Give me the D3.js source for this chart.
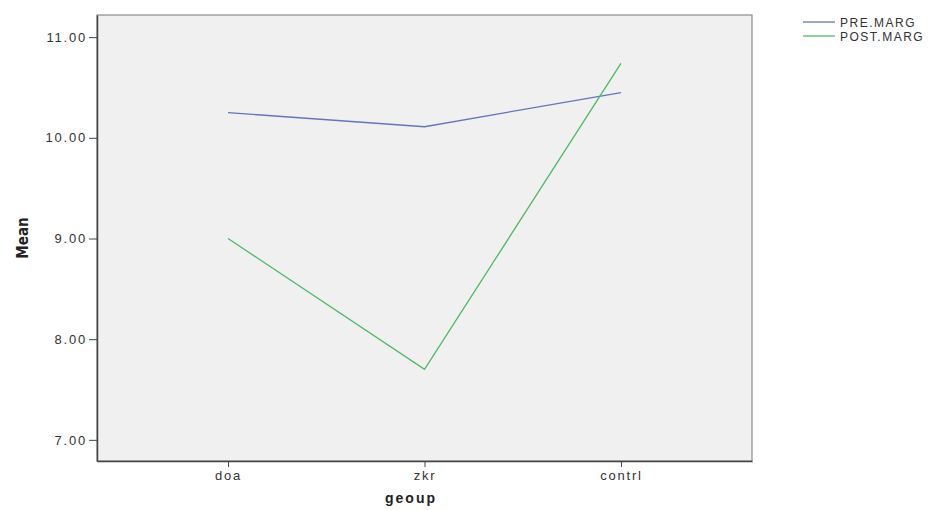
<!DOCTYPE html>
<html><head><meta charset="utf-8">
<script src="https://cdn.jsdelivr.net/npm/d3@7/dist/d3.min.js"></script>
<style>body{margin:0;background:#fff;}svg{display:block;font-family:"Liberation Sans",Arial,sans-serif;}</style>
</head><body>
<svg id="c" width="943" height="510"></svg>
<script>
const categories = ["doa", "zkr", "contrl"];
const seriesNames = ["PRE.MARG", "POST.MARG"];
const preMarg = [10.25, 10.11, 10.45];
const postMarg = [9.00, 7.70, 10.74];
const yTicks = [7, 8, 9, 10, 11];
const colors = ["#6474b8", "#4fb865"];

const svg = d3.select("#c");
const L = 97, T = 15, R = 752, B = 461;
const x = d3.scalePoint().domain(categories).range([L, R]).padding(0.667);
const y = d3.scaleLinear().domain([6.79, 11.22]).range([B, T]);

svg.append("rect").attr("x", L).attr("y", T).attr("width", R - L).attr("height", B - T)
  .attr("fill", "#f0f0f0").attr("stroke", "#777").attr("stroke-width", 1);

const series = [preMarg, postMarg];
const line = d3.line().x((d, i) => x(categories[i])).y(d => y(d));
series.forEach((s, k) => {
  svg.append("path").datum(s).attr("d", line).attr("fill", "none")
    .attr("stroke", colors[k]).attr("stroke-width", 1.3);
});

const yAxis = d3.axisLeft(y).tickValues(yTicks).tickSize(8).tickSizeOuter(0).tickPadding(2).tickFormat(d3.format(".2f"));
const gy = svg.append("g").attr("transform", `translate(${L},0)`).call(yAxis);
gy.select(".domain").attr("stroke", "#444").attr("stroke-width", 1.5);
gy.selectAll(".tick line").attr("stroke", "#444");
gy.selectAll("text").attr("font-size", 13).attr("letter-spacing", 1.8).attr("fill", "#333").attr("font-family", "Liberation Sans, Arial, sans-serif");

const xAxis = d3.axisBottom(x).tickSize(6).tickSizeOuter(0).tickPadding(4);
const gx = svg.append("g").attr("transform", `translate(0,${B})`).call(xAxis);
gx.select(".domain").attr("stroke", "#444").attr("stroke-width", 1.5);
gx.selectAll(".tick line").attr("stroke", "#444");
gx.selectAll("text").attr("font-size", 13).attr("letter-spacing", 1.8).attr("fill", "#333").attr("font-family", "Liberation Sans, Arial, sans-serif");

svg.append("text").attr("transform", "translate(28,238) rotate(-90)").attr("text-anchor", "middle")
  .attr("font-size", 15).attr("font-weight", "bold").attr("font-family", "Liberation Sans Narrow, DejaVu Sans Condensed, sans-serif")
  .attr("fill", "#222").text("Mean");
svg.append("text").attr("x", 411).attr("y", 503).attr("text-anchor", "middle")
  .attr("font-size", 14).attr("font-weight", "bold").attr("letter-spacing", 2)
  .attr("fill", "#222").text("geoup");

const leg = svg.append("g");
seriesNames.forEach((n, k) => {
  const yy = 22 + k * 14;
  leg.append("line").attr("x1", 803).attr("x2", 835).attr("y1", yy).attr("y2", yy)
    .attr("stroke", colors[k]).attr("stroke-width", 1.3);
  leg.append("text").attr("x", 840).attr("y", yy + 4.5).attr("font-size", 12).attr("letter-spacing", 1.5).attr("fill", "#333").text(n);
});
</script>
</body></html>
